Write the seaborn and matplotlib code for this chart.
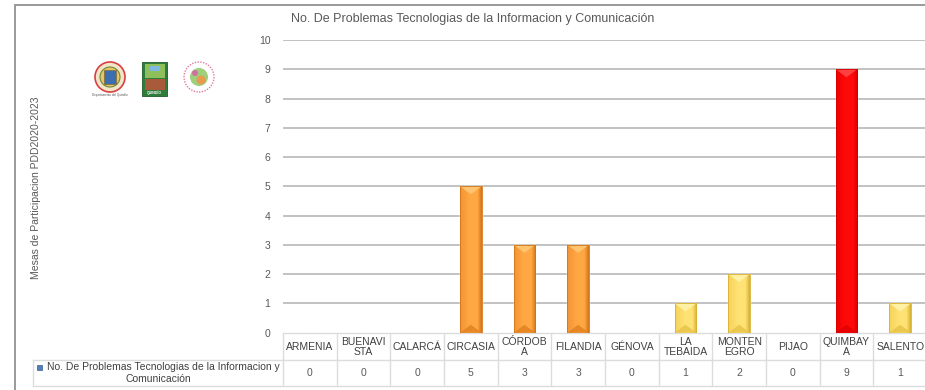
import numpy as np
import pandas as pd
import matplotlib
matplotlib.use("Agg")
import matplotlib.pyplot as plt
from matplotlib.patches import Circle, Rectangle, Polygon
from matplotlib.lines import Line2D
import seaborn as sns

# --- data ---------------------------------------------------------------
municipios = ["ARMENIA", "BUENAVISTA", "CALARCÁ", "CIRCASIA", "CÓRDOBA", "FILANDIA",
              "GÉNOVA", "LA TEBAIDA", "MONTENEGRO", "PIJAO", "QUIMBAYA", "SALENTO"]
etiquetas = ["ARMENIA", "BUENAVI\nSTA", "CALARCÁ", "CIRCASIA", "CÓRDOB\nA", "FILANDIA",
             "GÉNOVA", "LA\nTEBAIDA", "MONTEN\nEGRO", "PIJAO", "QUIMBAY\nA", "SALENTO"]
problemas = [0, 0, 0, 5, 3, 3, 0, 1, 2, 0, 9, 1]
serie = "No. De Problemas Tecnologias de la Informacion y Comunicación"
titulo = "No. De Problemas Tecnologias de la Informacion y Comunicación"
eje_y = "Mesas de Participacion PDD2020-2023"

# --- styling ------------------------------------------------------------
sns.set_style("white")
plt.rcParams["font.family"] = ["Liberation Sans", "DejaVu Sans"]
TXT = "#595959"
GRID = "#bdbdbd"
TBL = "#dcdcdc"

# colour ramp by count: (left, centre, right, bevel-top, bevel-bottom)
RAMPS = {
    "naranja": ("#f39434", "#ffa843", "#d27418", "#ffc470", "#e0801f"),
    "amarillo": ("#f5d259", "#ffe274", "#d6b032", "#fff0a4", "#e6c248"),
    "rojo": ("#f00000", "#ff0a0a", "#d40000", "#ff4040", "#e00000"),
}


def nivel(v):
    if v >= 6:
        return "rojo"
    if v >= 3:
        return "naranja"
    return "amarillo"


df = pd.DataFrame({"municipio": municipios, "problemas": problemas})
palette = {m: RAMPS[nivel(v)][1] for m, v in zip(municipios, problemas)}

W, H = 925, 390
fig = plt.figure(figsize=(W / 100, H / 100), dpi=100)
fig.patch.set_facecolor("white")

ax_l, ax_r, ax_t, ax_b = 283, 927, 40, 332.7
ax = fig.add_axes([ax_l / W, 1 - ax_b / H, (ax_r - ax_l) / W, (ax_b - ax_t) / H])

sns.barplot(data=df, x="municipio", y="problemas", hue="municipio", palette=palette,
            legend=False, width=0.4, ax=ax, saturation=1, zorder=3)

# shaded, bevelled faces on each bar
px_per_unit = (ax_b - ax_t) / 10.0
bevel = 8 / px_per_unit
for patch, v in zip(ax.patches, problemas):
    if v <= 0:
        continue
    x0 = patch.get_x()
    w = patch.get_width()
    h = patch.get_height()
    left, mid, right, top, bot = RAMPS[nivel(v)]
    cmap = matplotlib.colors.LinearSegmentedColormap.from_list(
        "g", [(0, left), (0.45, mid), (0.8, mid), (1, right)])
    grad = np.linspace(0, 1, 64)[None, :]
    im = ax.imshow(grad, cmap=cmap, extent=[x0, x0 + w, 0, h], aspect="auto",
                   zorder=3.1, interpolation="bilinear")
    im.set_clip_path(patch)
    xc = x0 + w / 2
    d = min(bevel, h / 2)
    ax.add_patch(Polygon([(x0, h), (x0 + w, h), (xc, h - d)], closed=True,
                         facecolor=top, edgecolor="none", zorder=3.2))
    ax.add_patch(Polygon([(x0, 0), (x0 + w, 0), (xc, d)], closed=True,
                         facecolor=bot, edgecolor="none", zorder=3.2, alpha=0.8))
    ax.add_patch(Rectangle((x0, 0), w, h, facecolor="none",
                           edgecolor=right, linewidth=0.6, zorder=3.3))

ax.set_xlim(-0.5, len(municipios) - 0.5)
ax.set_ylim(0, 10)
ax.set_yticks(range(0, 11))
ax.yaxis.grid(True, color=GRID, linewidth=1.3, zorder=0)
ax.get_ygridlines()[0].set_visible(False)
ax.set_axisbelow(True)
ax.tick_params(axis="y", length=0, pad=9, labelsize=7.5, labelcolor=TXT)
ax.tick_params(axis="x", length=0, labelbottom=False)
ax.set_xlabel("")
ax.set_ylabel("")
for s in ax.spines.values():
    s.set_visible(False)

# --- data table beneath the plot ---------------------------------------
ax_h = ax_b - ax_t


def ya(ypix):
    return (ax_b - ypix) / ax_h


tr = ax.get_xaxis_transform()
y_top, y_mid, y_bot = ya(333), ya(360), ya(386)
n = len(municipios)
ax.plot([-0.5, n - 0.5], [y_top, y_top], color=TBL, lw=1, transform=tr, clip_on=False)
for i in range(n + 1):
    ax.plot([i - 0.5, i - 0.5], [y_top, y_bot], color=TBL, lw=1, transform=tr, clip_on=False)
for i, (lab, v) in enumerate(zip(etiquetas, problemas)):
    ax.text(i, ya(347), lab, transform=tr, ha="center", va="center", fontsize=7.5,
            color="#404040", linespacing=1.05, clip_on=False)
    ax.text(i, ya(373), str(v), transform=tr, ha="center", va="center", fontsize=7.5,
            color=TXT, clip_on=False)

# legend cell to the left of the value row
for yp in (360, 386):
    fig.add_artist(Line2D([33 / W, ax_r / W], [1 - yp / H, 1 - yp / H], color=TBL, lw=1))
fig.add_artist(Line2D([33 / W, 33 / W], [1 - 360 / H, 1 - 386 / H], color=TBL, lw=1))
partes = serie.rsplit(" ", 1)
fig.text(163 / W, 1 - 367.5 / H, partes[0], ha="center", va="center", fontsize=7.5, color="#404040")
fig.text(158 / W, 1 - 379.5 / H, partes[1], ha="center", va="center", fontsize=7.5, color="#404040")
fig.add_artist(Rectangle((36.5 / W, 1 - 370 / H), 5 / W, 5 / H, facecolor="#4f81bd",
                         edgecolor="#385d8a", lw=0.5))

# --- titles --------------------------------------------------------------
fig.text(473 / W, 1 - 19 / H, titulo, ha="center", va="center", fontsize=9, color=TXT)
fig.text(36 / W, 1 - 188 / H, eje_y, ha="center", va="center", rotation=90,
         fontsize=7.5, color=TXT)

# --- chart frame ---------------------------------------------------------
fig.add_artist(Line2D([15 / W, 15 / W], [0, 1 - 5 / H], color="#9a9a9a", lw=1.4))
fig.add_artist(Line2D([15 / W, 1], [1 - 5 / H, 1 - 5 / H], color="#9a9a9a", lw=1.4))

# --- emblems -------------------------------------------------------------
def fc(x, y):
    return (x / W, 1 - y / H)


# department seal
fig.add_artist(matplotlib.patches.Ellipse(fc(110, 77), 30 / W, 30 / H, facecolor="#f3e6c8",
                                          edgecolor="#d84040", lw=1.2))
fig.add_artist(matplotlib.patches.Ellipse(fc(110, 77), 20 / W, 20 / H, facecolor="#e6c46a",
                                          edgecolor="#6a8a3a", lw=0.8))
fig.add_artist(Rectangle(fc(104, 84), 12 / W, 14 / H, facecolor="#3b6fb0", edgecolor="#8a6a2a", lw=0.5))
fig.text(110 / W, 1 - 95 / H, "Departamento del Quindío", ha="center", va="center",
         fontsize=2.2, color="#555555")
# green emblem
fig.add_artist(Rectangle(fc(142, 96), 25 / W, 34 / H, facecolor="#2f7d3a", edgecolor="#1f5a28", lw=0.6))
fig.add_artist(Rectangle(fc(144.5, 78), 20 / W, 14 / H, facecolor="#8fbf5a", edgecolor="none"))
fig.add_artist(Rectangle(fc(144.5, 90), 20 / W, 11 / H, facecolor="#a85a3a", edgecolor="none"))
fig.add_artist(Rectangle(fc(150, 71), 10 / W, 5 / H, facecolor="#7fb8e0", edgecolor="none"))
fig.text(154.5 / W, 1 - 92.5 / H, "QUINDÍO", ha="center", va="center", fontsize=2.5,
         color="white", fontweight="bold")
# cultural landscape emblem
fig.add_artist(matplotlib.patches.Ellipse(fc(199, 77), 30 / W, 30 / H, facecolor="white",
                                          edgecolor="#e07aa0", lw=1.0, linestyle=(0, (1, 1))))
fig.add_artist(matplotlib.patches.Ellipse(fc(199, 77), 18 / W, 18 / H, facecolor="#9fcf7a",
                                          edgecolor="none"))
fig.add_artist(matplotlib.patches.Ellipse(fc(201, 80), 9 / W, 9 / H, facecolor="#e89a50",
                                          edgecolor="none"))
fig.add_artist(matplotlib.patches.Ellipse(fc(195, 73), 6 / W, 6 / H, facecolor="#d070a0",
                                          edgecolor="none"))

fig.savefig("out.png", dpi=100, facecolor="white")
